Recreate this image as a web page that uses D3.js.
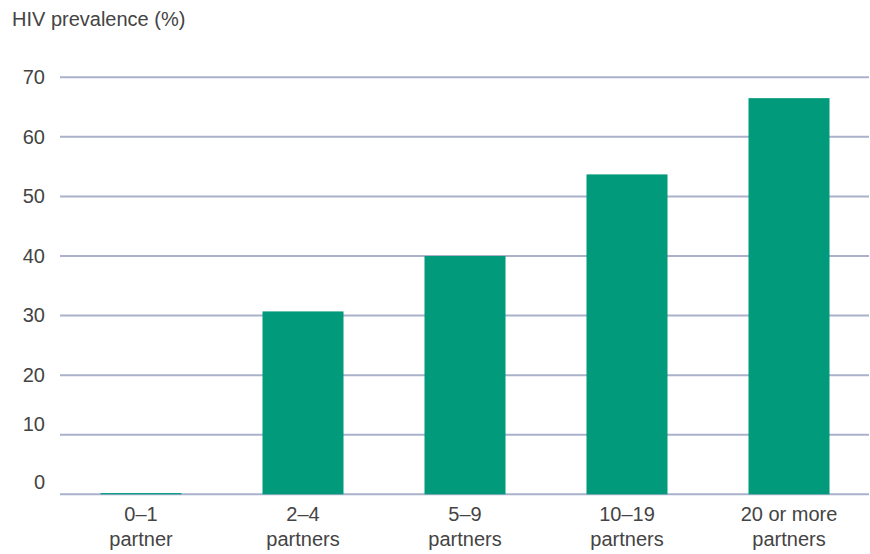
<!DOCTYPE html>
<html>
<head>
<meta charset="utf-8">
<script src="https://cdn.jsdelivr.net/npm/d3@7"></script>
<style>
  body { margin: 0; background: #fff; }
  text { font-family: "Liberation Sans", Arial, sans-serif; fill: #444; }
</style>
</head>
<body>
<svg id="bar_chart" width="870" height="554"></svg>
<script>
// data
var categories = ["0\u20131 partner", "2\u20134 partners", "5\u20139 partners", "10\u201319 partners", "20 or more partners"];
var label_lines = [["0\u20131", "partner"], ["2\u20134", "partners"], ["5\u20139", "partners"], ["10\u201319", "partners"], ["20 or more", "partners"]];
var prevalence = [0.2, 30.7, 40, 53.7, 66.5];
var y_ticks = [0, 10, 20, 30, 40, 50, 60, 70];
var y_title = "HIV prevalence (%)";

function draw_chart(){
    var svg = d3.select("#bar_chart");
    svg.selectAll("*").remove();

    var left = 60, right = 869, top = 77.3, bottom = 494.3;

    var x = d3.scaleBand()
        .domain(categories)
        .range([left, right + 1])
        .paddingInner(0.5)
        .paddingOuter(0.25);

    var y = d3.scaleLinear()
        .domain([0, 70])
        .range([bottom, top]);

    // gridlines
    svg.append("g")
        .attr("id", "grid")
        .selectAll("line")
        .data(y_ticks)
        .join("line")
        .attr("x1", left)
        .attr("x2", right)
        .attr("y1", function(d){ return y(d); })
        .attr("y2", function(d){ return y(d); })
        .attr("stroke", "#a9b2ca")
        .attr("stroke-width", 2);

    // y axis labels (bottom two sit a bit higher in the original)
    var y_axis = svg.append("g")
        .attr("id", "y_axis")
        .attr("transform", "translate(45,0)")
        .call(d3.axisLeft(y).tickValues(y_ticks).tickSize(0).tickPadding(0));
    y_axis.select(".domain").remove();
    y_axis.selectAll("text")
        .attr("dy", function(d){ return d <= 10 ? (d == 0 ? "-0.3em" : "-0.2em") : "0.32em"; })
        .style("font-size", "20px")
        .style("fill", "#444")
        .style("font-family", "Liberation Sans, Arial, sans-serif");

    // bars
    svg.append("g")
        .attr("id", "bars")
        .selectAll("rect")
        .data(prevalence)
        .join("rect")
        .attr("x", function(d, i){ return x(categories[i]); })
        .attr("width", x.bandwidth())
        .attr("y", function(d){ return y(d); })
        .attr("height", function(d){ return y(0) - y(d); })
        .attr("fill", "#019a7a");

    // x axis labels, two lines each
    var x_axis = svg.append("g")
        .attr("id", "x_axis")
        .attr("transform", "translate(0," + bottom + ")")
        .call(d3.axisBottom(x).tickSize(0).tickFormat(""));
    x_axis.select(".domain").remove();
    x_axis.selectAll(".tick").each(function(d, i){
        var t = d3.select(this).append("text")
            .attr("text-anchor", "middle")
            .style("font-size", "20px")
            .style("fill", "#444");
        label_lines[i].forEach(function(line, j){
            t.append("tspan")
                .attr("x", 0)
                .attr("y", 27 + j * 25)
                .text(line);
        });
    });

    // title
    svg.append("text")
        .attr("x", 12)
        .attr("y", 26)
        .style("font-size", "20px")
        .text(y_title);
}

draw_chart();
</script>
</body>
</html>
